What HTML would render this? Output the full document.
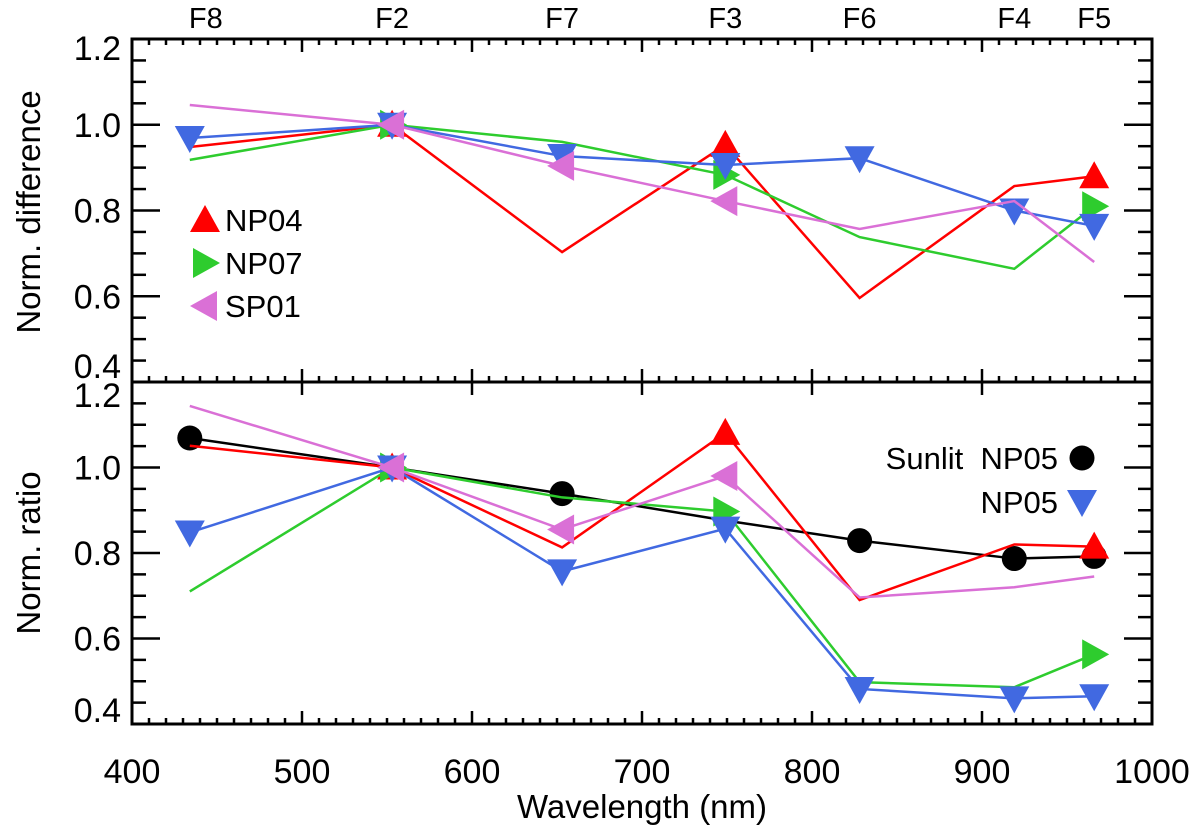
<!DOCTYPE html>
<html><head><meta charset="utf-8"><style>
body{margin:0;background:#fff}
svg text{font-family:"Liberation Sans",sans-serif;fill:#000}
</style></head><body>
<svg id="chart" width="1200" height="832" xmlns="http://www.w3.org/2000/svg"></svg>
<script>
const filters = ["F8","F2","F7","F3","F6","F4","F5"];
const wavelengths = [434,553,653,749,828,919,966];
const xTicks = [400,500,600,700,800,900,1000];
const yTicks = [0.4,0.6,0.8,1.0,1.2];
// top panel (normalized difference)
const topRed   = [0.948,1.0,0.703,0.953,0.596,0.857,0.88];
const topGreen = [0.918,1.0,0.96,0.883,0.738,0.664,0.81];
const topBlue  = [0.969,1.0,0.927,0.906,0.922,0.80,0.764];
const topPink  = [1.046,1.0,0.904,0.822,0.757,0.822,0.68];
const topRedMk   = [0,1,0,1,0,0,1];
const topGreenMk = [0,1,0,1,0,0,1];
const topBlueMk  = [1,1,1,1,1,1,1];
const topPinkMk  = [0,1,1,1,0,0,0];
// bottom panel (normalized ratio)
const botBlack = [1.069,1.0,0.939,0.876,0.829,0.787,0.792];
const botRed   = [1.051,1.0,0.813,1.081,0.69,0.82,0.815];
const botGreen = [0.71,1.0,0.93,0.897,0.498,0.486,0.563];
const botBlue  = [0.848,1.0,0.757,0.857,0.482,0.46,0.465];
const botPink  = [1.144,1.0,0.855,0.98,0.696,0.72,0.745];
const botBlackMk = [1,0,1,0,1,1,1];
const botRedMk   = [0,1,0,1,0,0,1];
const botGreenMk = [0,1,0,1,0,0,1];
const botBlueMk  = [1,1,1,1,1,1,1];
const botPinkMk  = [0,1,1,1,0,0,0];

const NS="http://www.w3.org/2000/svg";
const svg=document.getElementById('chart');
const L=132,R=1152,T1=39,B1=382,T2=382,B2=724;
const xs=v=>L+(v-400)*(R-L)/600;
const ysTop=v=>B1-(v-0.4)*(B1-T1)/0.8;
const ysBot=v=>B2-(v-0.4)*(B2-T2)/0.8;
function mk(tag,attrs,parent){const e=document.createElementNS(NS,tag);for(const k in attrs)e.setAttribute(k,attrs[k]);(parent||svg).appendChild(e);return e;}

for(const [t,b,n] of [[T1,B1,'top-panel-frame'],[T2,B2,'bottom-panel-frame']]){
  const r=mk('rect',{x:L,y:t,width:R-L,height:b-t,fill:'none',stroke:'#000','stroke-width':3});
  
  
}
for(let w=400;w<=1000;w+=10){
  const major=(w%100===0);const len=major?13:6;const x=xs(w);
  for(const [yb,dir] of [[B2,-1],[T1,1],[B1,-1],[T2,1]]){
    if(!major&&dir===1&&yb===T2)continue;
    mk('line',{x1:x,x2:x,y1:yb,y2:yb+dir*len,stroke:'#000','stroke-width':2.5});
  }
}
xTicks.forEach(w=>{
  const t=mk('text',{x:xs(w),y:783,'font-size':34,'text-anchor':'middle'});t.textContent=w;
  
  
});
for(const [ys,pn] of [[ysTop,'top'],[ysBot,'bottom']]){
  for(let i=0;i<=16;i++){const v=0.4+i*0.05;const y=ys(v);const len=(i%4===0)?28:14;
    mk('line',{x1:L,x2:L+len,y1:y,y2:y,stroke:'#000','stroke-width':2.5});
    mk('line',{x1:R,x2:R-len,y1:y,y2:y,stroke:'#000','stroke-width':2.5});}
  yTicks.forEach(v=>{let y=ys(v)+12;if(pn==='top'&&v===0.4)y=ys(v)-4;if(pn==='bottom'&&v===1.2)y=ys(v)+25;if(pn==='bottom'&&v===0.4)y=ys(v)-2;if(pn==='top'&&v===1.2)y=ys(v)+21;
    const t=mk('text',{x:121,y:y,'font-size':34,'text-anchor':'end'});t.textContent=v.toFixed(1);
    
    });
}
filters.forEach((f,i)=>{const t=mk('text',{x:xs(wavelengths[i])+(i===0?16:0),y:28,'font-size':29,'text-anchor':'middle'});t.textContent=f;
  
  });
let t=mk('text',{x:642,y:818,'font-size':33,'text-anchor':'middle'});t.textContent='Wavelength (nm)';

t=mk('text',{x:0,y:0,'font-size':33,'text-anchor':'middle',transform:'translate(40,212) rotate(-90)'});t.textContent='Norm. difference';

t=mk('text',{x:0,y:0,'font-size':33,'text-anchor':'middle',transform:'translate(40,553) rotate(-90)'});t.textContent='Norm. ratio';


function marker(type,x,y,color,parent){
  const s=15;
  if(type==='circle')return mk('circle',{cx:x,cy:y,r:12.5,fill:color},parent);
  let p;
  if(type==='up')p=[[x,y-s],[x+s,y+s*0.8],[x-s,y+s*0.8]];
  if(type==='down')p=[[x,y+s],[x+s,y-s*0.8],[x-s,y-s*0.8]];
  if(type==='right')p=[[x+s,y],[x-s*0.8,y-s],[x-s*0.8,y+s]];
  if(type==='left')p=[[x-s,y],[x+s*0.8,y-s],[x+s*0.8,y+s]];
  return mk('polygon',{points:p.map(q=>q.join(',')).join(' '),fill:color},parent);
}
function series(vals,flags,ys,color,type,name){
  const g=mk('g',{});
  
  
  const pts=vals.map((v,i)=>xs(wavelengths[i])+','+ys(v)).join(' ');
  mk('polyline',{points:pts,fill:'none',stroke:color,'stroke-width':2.5},g);
  vals.forEach((v,i)=>{if(flags[i]){const m=marker(type,xs(wavelengths[i]),ys(v),color,g);
    
    }});
}
const RED='#ff0000',GRN='#2ecc2e',BLU='#4169e1',PNK='#da70d6';
series(topRed,topRedMk,ysTop,RED,'up','top-np04-series');
series(topGreen,topGreenMk,ysTop,GRN,'right','top-np07-series');
series(topBlue,topBlueMk,ysTop,BLU,'down','top-np05-series');
series(topPink,topPinkMk,ysTop,PNK,'left','top-sp01-series');
series(botBlack,botBlackMk,ysBot,'#000','circle','bottom-sunlit-np05-series');
series(botRed,botRedMk,ysBot,RED,'up','bottom-np04-series');
series(botGreen,botGreenMk,ysBot,GRN,'right','bottom-np07-series');
series(botBlue,botBlueMk,ysBot,BLU,'down','bottom-np05-series');
series(botPink,botPinkMk,ysBot,PNK,'left','bottom-sp01-series');
[['NP04',RED,'up',220],['NP07',GRN,'right',263],['SP01',PNK,'left',306]].forEach(([lab,c,ty,y])=>{
  const m=marker(ty,205,y,c);
  const tt=mk('text',{x:225,y:y+11,'font-size':31});tt.textContent=lab;
  
});
[['Sunlit  NP05','#000','circle',458],['NP05',BLU,'down',502]].forEach(([lab,c,ty,y])=>{
  const m=marker(ty,1082,y,c);
  const tt=mk('text',{x:1058,y:y+11,'font-size':31,'text-anchor':'end'});tt.textContent=lab;
  tt.style.whiteSpace='pre';
  
});
</script>
</body></html>
